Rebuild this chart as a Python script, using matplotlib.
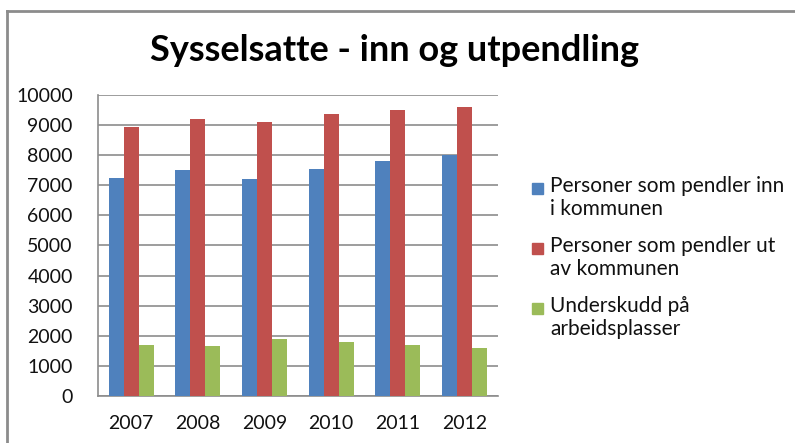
import matplotlib
matplotlib.use("Agg")
import matplotlib.pyplot as plt
import numpy as np
from matplotlib.lines import Line2D
from matplotlib.patches import Rectangle

years = ["2007", "2008", "2009", "2010", "2011", "2012"]
inn = [7250, 7490, 7200, 7540, 7810, 7990]
ut = [8930, 9190, 9090, 9360, 9510, 9610]
underskudd = [1680, 1650, 1880, 1780, 1680, 1590]
labels = ["Personer som pendler inn\ni kommunen",
          "Personer som pendler ut\nav kommunen",
          "Underskudd på\narbeidsplasser"]
colors = ["#4F81BD", "#C0504D", "#9BBB59"]

plt.rcParams['font.family'] = ['Lato', 'DejaVu Sans']

W, H = 795, 443
fig = plt.figure(figsize=(W / 100, H / 100), dpi=100)
ax = fig.add_axes([0.123, 0.106, 0.503, 0.680])

x = np.arange(len(years))
w = 0.225
series = [inn, ut, underskudd]
for i, vals in enumerate(series):
    ax.bar(x + (i - 1) * w, vals, w, color=colors[i], zorder=3)

ax.set_xlim(-0.5, len(years) - 0.5)
ax.set_ylim(0, 10000)
ax.set_yticks(np.arange(0, 10001, 1000))
ax.set_xticks(x, years)
ax.tick_params(axis='both', length=0, labelsize=14, colors='#111111')
ax.tick_params(axis='x', pad=14)
ax.tick_params(axis='y', pad=18)
ax.grid(axis='y', color='#8c8c8c', linewidth=1.2, zorder=0)
for s in ['top', 'right']:
    ax.spines[s].set_visible(False)
for s in ['left', 'bottom']:
    ax.spines[s].set_color('#8c8c8c')
    ax.spines[s].set_linewidth(1.2)

fig.text(0.496, 0.887, "Sysselsatte - inn og utpendling", ha='center', va='center',
         fontsize=26, fontweight='bold')

# legend, handle aligned with first line of each label like in the original
for i, lab in enumerate(labels):
    yc = 188 + 60 * i
    fig.add_artist(Rectangle((532 / W, 1 - (yc + 5.5) / H), 11 / W, 11 / H,
                             transform=fig.transFigure, color=colors[i]))
    fig.text(550 / W, 1 - (yc - 12) / H, lab, ha='left', va='top',
             fontsize=15, color='#111111', linespacing=1.2)

# chart border (top and left only visible)
fig.add_artist(Line2D([0.009, 1.0], [0.975, 0.975], transform=fig.transFigure,
                      color='#8c8c8c', linewidth=2))
fig.add_artist(Line2D([0.009, 0.009], [0.0, 0.975], transform=fig.transFigure,
                      color='#8c8c8c', linewidth=2))

fig.savefig("out.png", dpi=100)
